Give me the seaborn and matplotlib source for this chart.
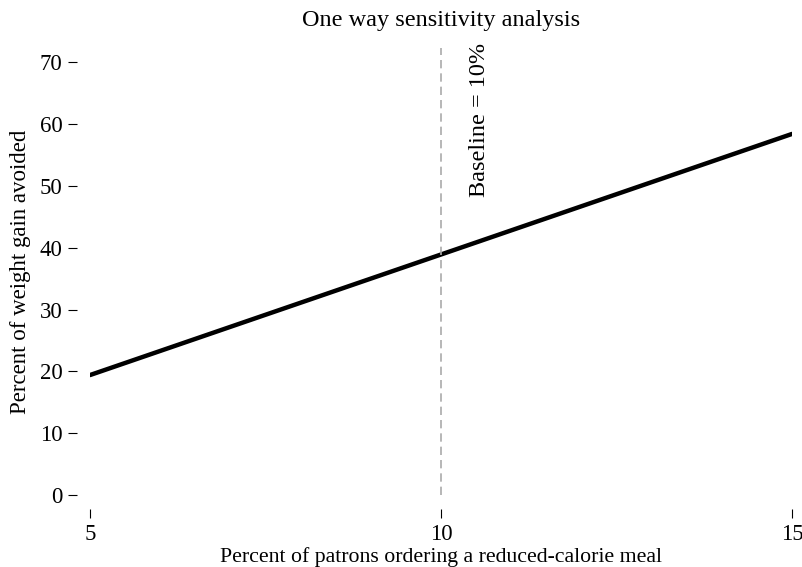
import numpy as np
import pandas as pd
import matplotlib
matplotlib.use('Agg')
import matplotlib.pyplot as plt
import seaborn as sns

sns.set_theme(style="white")
plt.rcParams['font.family'] = ['Liberation Serif', 'DejaVu Serif']
plt.rcParams['text.color'] = 'black'
plt.rcParams['axes.labelcolor'] = 'black'

# data
pct_ordering = [5, 10, 15]
pct_avoided = [19.4, 38.9, 58.4]
baseline = 10
y_ticks = [0, 10, 20, 30, 40, 50, 60, 70]
x_ticks = [5, 10, 15]

df = pd.DataFrame({'ordering': pct_ordering, 'avoided': pct_avoided})

fs = 16.5
fig = plt.figure(figsize=(8.02, 5.67), dpi=100)
W, H = 802, 567
ax = fig.add_axes([90 / W, (H - 495) / H, (792 - 90) / W, (495 - 48) / H])

sns.lineplot(data=df, x='ordering', y='avoided', color='black', linewidth=3.2, ax=ax)
ax.axvline(baseline, color='#aaaaaa', linestyle=(0, (5, 3)), linewidth=1.2)
ax.text(baseline + 0.55, 60.6, 'Baseline = 10%', rotation=90, ha='center', va='center', fontsize=17.5)

ax.set_xlim(5, 15)
ax.set_ylim(0, 72.3)
ax.set_xticks(x_ticks)
ax.set_yticks(y_ticks)

# R-style axes: ticks only, detached from the plot region
for side in ['top', 'right']:
    ax.spines[side].set_visible(False)
ax.spines['bottom'].set_position(('outward', 10))
ax.spines['left'].set_position(('outward', 9.4))
ax.spines['bottom'].set_color('none')
ax.spines['left'].set_color('none')

ax.tick_params(axis='both', which='major', direction='out', length=6.8, width=0.8,
               color='black', labelsize=fs, labelcolor='black', bottom=True, left=True)
ax.tick_params(axis='x', pad=4)
ax.tick_params(axis='y', pad=3.5)
ax.grid(False)

ax.set_title('One way sensitivity analysis', fontsize=17.5, pad=16)
ax.set_xlabel('Percent of patrons ordering a reduced-calorie meal', fontsize=15.7, labelpad=1.5)
ax.set_ylabel('Percent of weight gain avoided', fontsize=16.5, labelpad=6)

fig.savefig('out.png', dpi=100)
